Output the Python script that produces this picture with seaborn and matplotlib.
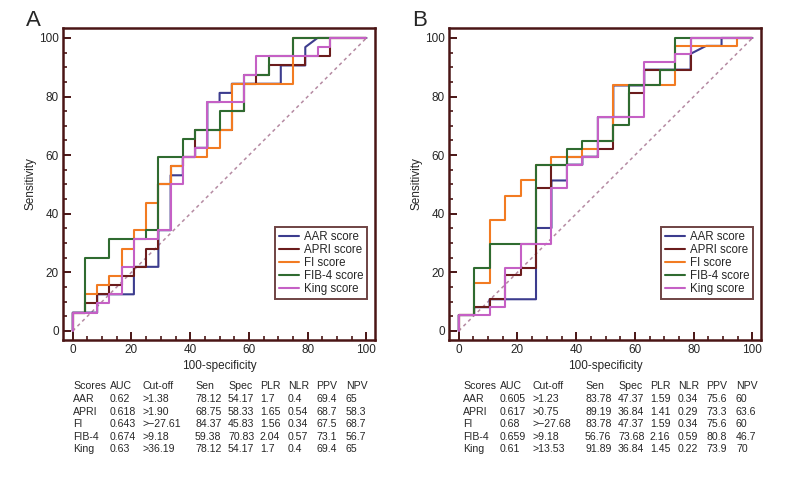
import matplotlib
matplotlib.use("Agg")
import matplotlib.pyplot as plt
import seaborn as sns
import pandas as pd
from matplotlib.ticker import MultipleLocator

sns.set_theme(style="white")
plt.rcParams['font.family'] = ['Liberation Sans', 'DejaVu Sans']

# ---------------- data (ROC vertices as counts: false positives, true positives) ----------------
SCORES = ["AAR score", "APRI score", "FI score", "FIB-4 score", "King score"]
COLORS = ["#3c3c8e", "#6b1c1c", "#f27b22", "#2f6b30", "#c560c5"]

# Panel A: 24 negatives, 32 positives
A_NEG, A_POS = 24, 32
A_AAR = [(0,0),(0,2),(2,2),(2,4),(5,4),(5,7),(7,7),(7,11),(8,11),(8,17),(9,17),(9,19),(10,19),(10,20),
         (11,20),(11,25),(12,25),(12,26),(13,26),(13,27),(17,27),(17,29),(19,29),(19,31),(20,32),(24,32)]
A_APRI = [(0,0),(0,2),(1,2),(1,3),(2,3),(2,4),(3,4),(3,5),(4,5),(4,6),(5,6),(5,7),(6,7),(6,9),(7,9),
          (7,16),(8,16),(8,18),(9,18),(9,19),(10,19),(10,22),(13,22),(13,24),(14,24),(14,27),(15,27),
          (15,28),(16,28),(16,29),(19,29),(19,30),(21,30),(21,32),(24,32)]
A_FI = [(0,0),(0,2),(1,2),(1,4),(2,4),(2,5),(3,5),(3,6),(4,6),(4,9),(5,9),(5,11),(6,11),(6,14),(7,14),
        (7,16),(8,16),(8,18),(9,18),(9,19),(11,19),(11,20),(12,20),(12,22),(13,22),(13,27),(18,27),
        (18,32),(24,32)]
A_FIB4 = [(0,0),(0,2),(1,2),(1,8),(3,8),(3,10),(6,10),(6,11),(7,11),(7,19),(9,19),(9,21),(10,21),
          (10,22),(12,22),(12,24),(14,24),(14,28),(16,28),(16,30),(18,30),(18,32),(24,32)]
A_KING = [(0,0),(0,2),(2,2),(2,3),(3,3),(3,4),(4,4),(4,7),(5,7),(5,10),(7,10),(7,11),(8,11),(8,16),
          (9,16),(9,19),(10,19),(10,20),(11,20),(11,25),(14,25),(14,28),(15,28),(15,30),(20,30),
          (20,31),(21,31),(21,32),(24,32)]

# Panel B: 19 negatives, 37 positives
B_NEG, B_POS = 19, 37
B_AAR = [(0,0),(0,2),(1,2),(1,3),(2,3),(2,4),(5,4),(5,13),(6,13),(6,19),(7,19),(7,21),(8,21),(8,22),
         (9,22),(9,27),(10,27),(10,31),(12,31),(12,33),(15,33),(15,35),(16,36),(17,36),(17,37),(19,37)]
B_APRI = [(0,0),(0,2),(1,2),(1,3),(2,3),(2,4),(3,4),(3,7),(4,7),(4,8),(5,8),(5,18),(6,18),(6,21),
          (7,21),(7,22),(9,22),(9,23),(10,23),(10,27),(11,27),(11,30),(12,30),(12,33),(15,33),(15,37),(19,37)]
B_FI = [(0,0),(0,2),(1,2),(1,6),(2,6),(2,14),(3,14),(3,17),(4,17),(4,19),(5,19),(5,21),(6,21),(6,22),
        (8,22),(8,23),(9,23),(9,24),(10,24),(10,31),(14,31),(14,36),(18,36),(18,37),(19,37)]
B_FIB4 = [(0,0),(0,2),(1,2),(1,8),(2,8),(2,11),(5,11),(5,21),(7,21),(7,23),(8,23),(8,24),(10,24),
          (10,26),(11,26),(11,31),(13,31),(13,33),(14,33),(14,37),(19,37)]
B_KING = [(0,0),(0,2),(2,2),(2,3),(3,3),(3,8),(4,8),(4,11),(6,11),(6,18),(7,18),(7,21),(8,21),(8,22),
          (9,22),(9,27),(12,27),(12,34),(14,34),(14,35),(15,35),(15,37),(19,37)]

TABLE_HEADER = ["Scores", "AUC", "Cut-off", "Sen", "Spec", "PLR", "NLR", "PPV", "NPV"]
TABLE_A = [["AAR", "0.62", ">1.38", "78.12", "54.17", "1.7", "0.4", "69.4", "65"],
           ["APRI", "0.618", ">1.90", "68.75", "58.33", "1.65", "0.54", "68.7", "58.3"],
           ["FI", "0.643", ">\u221227.61", "84.37", "45.83", "1.56", "0.34", "67.5", "68.7"],
           ["FIB-4", "0.674", ">9.18", "59.38", "70.83", "2.04", "0.57", "73.1", "56.7"],
           ["King", "0.63", ">36.19", "78.12", "54.17", "1.7", "0.4", "69.4", "65"]]
TABLE_B = [["AAR", "0.605", ">1.23", "83.78", "47.37", "1.59", "0.34", "75.6", "60"],
           ["APRI", "0.617", ">0.75", "89.19", "36.84", "1.41", "0.29", "73.3", "63.6"],
           ["FI", "0.68", ">\u221227.68", "83.78", "47.37", "1.59", "0.34", "75.6", "60"],
           ["FIB-4", "0.659", ">9.18", "56.76", "73.68", "2.16", "0.59", "80.8", "46.7"],
           ["King", "0.61", ">13.53", "91.89", "36.84", "1.45", "0.22", "73.9", "70"]]

FRAME = "#4a1515"
DIAG = "#b58aa2"

W, H = 792, 480
fig = plt.figure(figsize=(W / 100, H / 100), dpi=100)


def make_panel(left_px, curves, neg, pos, label, label_px, table, col_px):
    ax = fig.add_axes([left_px / W, 1 - 340 / H, 312 / W, 312 / H])
    rows = []
    for name, pts in zip(SCORES, curves):
        for i, (fp, tp) in enumerate(pts):
            rows.append({"score": name, "order": i,
                         "x": fp * 100.0 / neg, "y": tp * 100.0 / pos})
    df = pd.DataFrame(rows)
    ax.plot([0, 100], [0, 100], color=DIAG, lw=1.1, ls=(0, (2.2, 2.2)), zorder=1)
    sns.lineplot(data=df, x="x", y="y", hue="score", hue_order=SCORES,
                 palette=COLORS, sort=False, estimator=None, units="score",
                 lw=1.5, ax=ax, zorder=3)
    ax.set_xlim(-3.3, 102.9)
    ax.set_ylim(-3.1, 103.4)
    ax.xaxis.set_major_locator(MultipleLocator(20))
    ax.yaxis.set_major_locator(MultipleLocator(20))
    ax.xaxis.set_minor_locator(MultipleLocator(5))
    ax.yaxis.set_minor_locator(MultipleLocator(5))
    ax.tick_params(which="major", direction="in", length=6, width=1.4, color=FRAME,
                   labelsize=8.5, pad=3, bottom=True, left=True, top=False, right=False)
    ax.tick_params(which="minor", direction="in", length=3.2, width=1.2, color=FRAME,
                   bottom=True, left=True, top=False, right=False)
    for sp in ax.spines.values():
        sp.set_color(FRAME)
        sp.set_linewidth(1.8)
    ax.set_xlabel("100-specificity", fontsize=8.5, labelpad=3)
    ax.set_ylabel("Sensitivity", fontsize=8.5, labelpad=2)
    leg = ax.legend(loc="upper right", bbox_to_anchor=(0.975, 0.362), fontsize=8.3,
                    frameon=True, fancybox=False, handlelength=1.7, handletextpad=0.4,
                    labelspacing=0.08, borderpad=0.35, borderaxespad=0, title=None)
    leg.get_frame().set_edgecolor(FRAME)
    leg.get_frame().set_linewidth(1.4)
    for ln in leg.get_lines():
        ln.set_linewidth(1.5)
    fig.text(label_px[0] / W, 1 - label_px[1] / H, label, fontsize=16,
             ha="left", va="center")
    row_y = [386, 399.3, 411.7, 424, 436.7, 449]
    for j, head in enumerate(TABLE_HEADER):
        fig.text(col_px[j] / W, 1 - row_y[0] / H, head, fontsize=7.6, ha="left", va="center")
    for i, r in enumerate(table):
        for j, val in enumerate(r):
            fig.text(col_px[j] / W, 1 - row_y[i + 1] / H, val, fontsize=7.6,
                     ha="left", va="center")
    return ax


make_panel(63, [A_AAR, A_APRI, A_FI, A_FIB4, A_KING], A_NEG, A_POS, "A", (26, 21), TABLE_A,
           [73, 110, 142.5, 195, 228, 260, 288, 316.5, 346])
make_panel(449, [B_AAR, B_APRI, B_FI, B_FIB4, B_KING], B_NEG, B_POS, "B", (412, 21), TABLE_B,
           [463, 500, 532.5, 585, 618, 650, 678, 706.5, 736])

fig.savefig("out.png", dpi=100)
